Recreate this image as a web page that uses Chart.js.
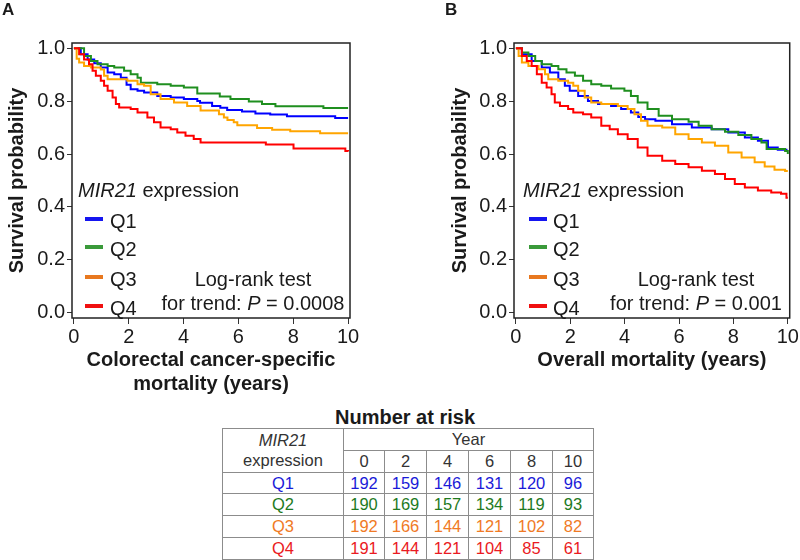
<!DOCTYPE html>
<html>
<head>
<meta charset="utf-8">
<script src="https://cdn.jsdelivr.net/npm/chart.js@4/dist/chart.umd.min.js"></script>
<style>
  body { margin: 0; background: #fff; font-family: 'Liberation Sans', Arial, sans-serif; color: #1a1a1a; }
  #wrap { position: relative; width: 800px; height: 560px; overflow: hidden; }
  canvas { position: absolute; }
  .lbl { position: absolute; white-space: nowrap; }
  .panel { font-size: 17px; font-weight: bold; line-height: 17px; }
  .leg { font-size: 20px; line-height: 20px; }
  .sw { position: absolute; width: 18px; height: 4px; }
  .note { font-size: 20px; line-height: 24px; text-align: center; width: 240px; }
  #risk { position: absolute; left: 222px; top: 428px; border-collapse: collapse; font-size: 16.5px; table-layout: fixed; }
  #risk td { border: 1px solid #8c8c8c; text-align: center; padding: 0; height: 20.8px; line-height: 20.8px; }
</style>
</head>
<body>
<div id="wrap">
  <canvas id="chartA" width="400" height="400" style="left:0;top:0"></canvas>
  <canvas id="chartB" width="360" height="400" style="left:440px;top:0"></canvas>

  <div class="lbl panel" style="left:2px;top:1px">A</div>
  <div class="lbl panel" style="left:445px;top:1px">B</div>

  <div id="legA"></div>
  <div id="legB"></div>

  <div class="lbl note" style="left:133px;top:267px">Log-rank test<br>for trend: <i>P</i> = 0.0008</div>
  <div class="lbl note" style="left:576px;top:267px">Log-rank test<br>for trend: <i>P</i> = 0.001</div>

  <div class="lbl" style="left:305px;top:407px;width:200px;text-align:center;font-size:20px;line-height:20px;font-weight:bold">Number at risk</div>
  <table id="risk"></table>
</div>
<script>
// x and y ticks
const xTicks = [0, 2, 4, 6, 8, 10];
const yTicks = [0, 0.2, 0.4, 0.6, 0.8, 1.0];
const groups = ['Q1', 'Q2', 'Q3', 'Q4'];
const lineColors = ['#0000ff', '#1f8f1f', '#ffa500', '#ff0000'];
const swatchColors = ['#1515f0', '#3a9a3a', '#e8781f', '#f01010'];
const tableColors = ['#1a1ad8', '#1e7a1e', '#f07a25', '#ea1a22'];

// panel A: colorectal cancer-specific mortality, [year, survival]
const kmA_Q1 = [[0,1],[0.25,0.977],[0.5,0.958],[0.74,0.943],[0.98,0.927],[1.23,0.908],[1.47,0.902],[1.71,0.889],[1.92,0.862],[2.07,0.845],[2.32,0.839],[2.56,0.833],[3.04,0.82],[3.53,0.814],[4.01,0.808],[4.5,0.801],[4.6,0.794],[5.04,0.782],[5.34,0.775],[5.59,0.767],[6.13,0.761],[6.62,0.753],[7.16,0.75],[7.77,0.743],[9.53,0.736],[10,0.736]];
const kmA_Q2 = [[0,1],[0.37,0.971],[0.62,0.952],[0.86,0.94],[1.23,0.933],[1.47,0.927],[1.83,0.915],[2.07,0.902],[2.32,0.889],[2.44,0.87],[3.04,0.864],[3.53,0.858],[4.01,0.852],[4.5,0.829],[5.32,0.818],[5.71,0.808],[6.38,0.799],[6.86,0.789],[7.35,0.781],[9.1,0.774],[10,0.774]];
const kmA_Q3 = [[0,1],[0.1,0.96],[0.19,0.946],[0.37,0.933],[0.62,0.927],[0.98,0.92],[1.1,0.896],[1.23,0.883],[1.95,0.877],[2.32,0.864],[2.56,0.858],[2.8,0.826],[3.16,0.808],[3.65,0.795],[4.13,0.782],[4.62,0.765],[5.29,0.751],[5.47,0.738],[5.6,0.729],[5.83,0.72],[5.96,0.709],[6.68,0.699],[7.23,0.692],[7.89,0.686],[8.98,0.679],[10,0.679]];
const kmA_Q4 = [[0,1],[0.19,0.977],[0.37,0.958],[0.55,0.94],[0.68,0.915],[0.8,0.896],[0.98,0.877],[1.1,0.858],[1.23,0.839],[1.41,0.814],[1.53,0.789],[1.65,0.776],[2.07,0.77],[2.32,0.757],[2.68,0.738],[2.92,0.72],[3.16,0.7],[3.53,0.694],[3.77,0.682],[4.07,0.669],[4.37,0.657],[4.62,0.644],[7.0,0.636],[8.01,0.621],[9.9,0.612],[10,0.61]];

// panel B: overall mortality
const kmB_Q1 = [[0,1],[0.22,0.977],[0.58,0.952],[0.95,0.927],[1.25,0.908],[1.56,0.883],[1.8,0.858],[1.98,0.839],[2.29,0.82],[2.65,0.801],[3.02,0.789],[3.5,0.782],[3.87,0.77],[4.23,0.757],[4.5,0.74],[4.75,0.732],[5.13,0.726],[5.74,0.713],[6.47,0.7],[7.2,0.694],[7.81,0.682],[8.42,0.663],[8.9,0.65],[9.27,0.625],[9.63,0.616],[9.95,0.612],[10,0.612]];
const kmB_Q2 = [[0,1],[0.22,0.984],[0.46,0.971],[0.71,0.952],[0.95,0.94],[1.31,0.933],[1.56,0.921],[1.86,0.908],[2.17,0.896],[2.47,0.877],[2.77,0.864],[3.14,0.858],[3.5,0.848],[3.99,0.839],[4.23,0.82],[4.48,0.795],[4.84,0.77],[5.25,0.745],[5.74,0.732],[6.35,0.722],[6.72,0.707],[7.2,0.694],[7.69,0.684],[8.18,0.672],[8.66,0.657],[9.03,0.644],[9.22,0.619],[9.9,0.612],[10,0.6]];
const kmB_Q3 = [[0,1],[0.1,0.971],[0.22,0.946],[0.46,0.933],[0.83,0.921],[1.07,0.902],[1.19,0.883],[1.56,0.877],[1.92,0.87],[2.11,0.858],[2.29,0.839],[2.53,0.814],[2.77,0.795],[3.14,0.789],[3.75,0.782],[4.11,0.77],[4.36,0.751],[4.6,0.726],[4.84,0.707],[5.38,0.7],[5.86,0.675],[6.35,0.657],[6.84,0.644],[7.32,0.631],[7.81,0.606],[8.3,0.587],[8.78,0.569],[9.15,0.553],[9.51,0.541],[9.9,0.536],[10,0.536]];
const kmB_Q4 = [[0,1],[0.22,0.971],[0.4,0.952],[0.58,0.933],[0.77,0.902],[0.95,0.87],[1.13,0.852],[1.31,0.826],[1.43,0.795],[1.62,0.782],[1.92,0.77],[2.11,0.757],[2.47,0.751],[2.77,0.738],[3.14,0.707],[3.45,0.694],[3.75,0.675],[4.11,0.657],[4.48,0.625],[4.84,0.594],[5.38,0.575],[5.86,0.562],[6.35,0.55],[6.84,0.537],[7.32,0.525],[7.69,0.506],[8.05,0.487],[8.42,0.474],[8.9,0.462],[9.39,0.455],[9.75,0.45],[9.95,0.435],[10,0.435]];

// number at risk table
const riskYears = [0, 2, 4, 6, 8, 10];
const riskQ1 = [192, 159, 146, 131, 120, 96];
const riskQ2 = [190, 169, 157, 134, 119, 93];
const riskQ3 = [192, 166, 144, 121, 102, 82];
const riskQ4 = [191, 144, 121, 104, 85, 61];

Chart.defaults.font.family = "'Liberation Sans', Arial, sans-serif";
Chart.defaults.color = '#1a1a1a';

const boxPlugin = {
  id: 'box',
  afterDraw(chart) {
    const a = chart.chartArea, ctx = chart.ctx;
    ctx.save();
    ctx.strokeStyle = '#222';
    ctx.lineWidth = 1.5;
    ctx.strokeRect(a.left, a.top, a.right - a.left, a.bottom - a.top);
    ctx.restore();
  }
};

function makeChart(id, curves, xTitle, opt) {
  const datasets = curves.map((c, i) => ({
    label: groups[i],
    data: c.map(p => ({ x: p[0], y: p[1] })),
    borderColor: lineColors[i],
    borderWidth: 2,
    pointRadius: 0,
    stepped: true,
    fill: false,
    order: 4 - i
  }));
  return new Chart(document.getElementById(id), {
    type: 'line',
    data: { datasets },
    plugins: [boxPlugin],
    options: {
      responsive: false,
      animation: false,
      devicePixelRatio: 1,
      layout: { padding: { top: 43, right: opt.right, left: 0, bottom: 0 } },
      plugins: { legend: { display: false }, tooltip: { enabled: false } },
      scales: {
        x: {
          type: 'linear', min: -0.07, max: 10.07,
          afterBuildTicks: s => { s.ticks = xTicks.map(v => ({ value: v })); },
          afterFit: s => { s.height = 82; },
          ticks: { font: { size: 20 }, padding: 1, maxRotation: 0, callback: v => String(v) },
          grid: { drawOnChartArea: false, tickLength: 6, color: '#333' },
          border: { display: false },
          title: { display: true, text: xTitle, font: { size: 20, weight: 'bold', lineHeight: 1.2 }, padding: { top: 0, bottom: opt.titlePad } }
        },
        y: {
          min: -0.02, max: 1.02,
          afterBuildTicks: s => { s.ticks = yTicks.map(v => ({ value: v })); },
          afterFit: s => { s.width = opt.yWidth; },
          ticks: { font: { size: 20 }, padding: 2, callback: v => v.toFixed(1) },
          grid: { drawOnChartArea: false, tickLength: 5, color: '#333' },
          border: { display: false },
          title: { display: true, text: 'Survival probability', font: { size: 20, weight: 'bold' }, padding: { top: opt.yTitlePad, bottom: 0 } }
        }
      }
    }
  });
}

makeChart('chartA', [kmA_Q1, kmA_Q2, kmA_Q3, kmA_Q4], ['Colorectal cancer-specific', 'mortality (years)'],
  { right: 50, yWidth: 72, titlePad: 4, yTitlePad: 5.5 });
makeChart('chartB', [kmB_Q1, kmB_Q2, kmB_Q3, kmB_Q4], 'Overall mortality (years)',
  { right: 9, yWidth: 74, titlePad: 28, yTitlePad: 8 });

// in-plot legends
function buildLegend(el, titleX, swX, textX) {
  const rowsY = [221, 249, 279, 307.5];
  let html = '<div class="lbl leg" style="left:' + titleX + 'px;top:180px"><i>MIR21</i> expression</div>';
  groups.forEach((g, i) => {
    html += '<div class="sw" style="left:' + swX + 'px;top:' + (rowsY[i] - 4) + 'px;background:' + swatchColors[i] + '"></div>';
    html += '<div class="lbl leg" style="left:' + textX + 'px;top:' + (rowsY[i] - 9.7) + 'px">' + g + '</div>';
  });
  document.getElementById(el).innerHTML = html;
}
buildLegend('legA', 78, 85, 110);
buildLegend('legB', 523, 529, 553);

// table
const riskRows = [riskQ1, riskQ2, riskQ3, riskQ4];
const colW = [121, 41, 42, 42, 42, 42, 41];
let t = '<colgroup>' + colW.map(w => '<col style="width:' + w + 'px">').join('') + '</colgroup>';
t += '<tr><td rowspan="2" style="color:#333"><i>MIR21</i><br>expression</td><td colspan="6" style="color:#333">Year</td></tr>';
t += '<tr>' + riskYears.map(y => '<td style="color:#333">' + y + '</td>').join('') + '</tr>';
riskRows.forEach((r, i) => {
  t += '<tr style="color:' + tableColors[i] + '"><td>' + groups[i] + '</td>' + r.map(v => '<td>' + v + '</td>').join('') + '</tr>';
});
document.getElementById('risk').innerHTML = t;
</script>
</body>
</html>
